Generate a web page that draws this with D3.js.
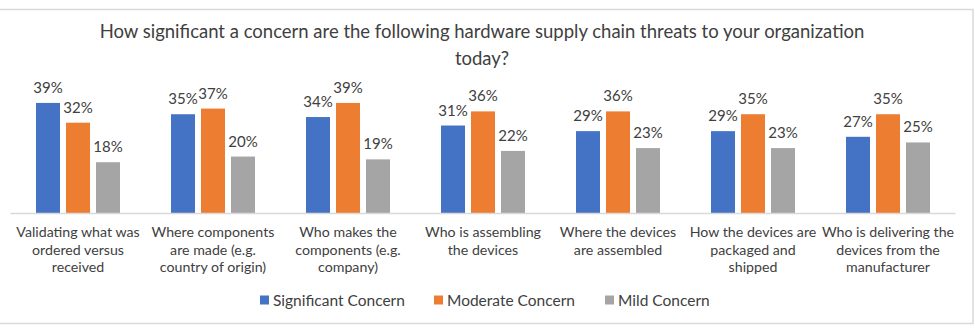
<!DOCTYPE html>
<html>
<head>
<meta charset="utf-8">
<script src="https://cdn.jsdelivr.net/npm/d3@7"></script>
<style>
  html, body { margin: 0; padding: 0; background: #fff; }
  svg { display: block; font-family: Lato, "Open Sans", sans-serif; }
</style>
</head>
<body>
<svg id="chart" width="975" height="335"></svg>
<script>
// Data
const categories = [
    ['Validating what was', 'ordered versus', 'received'],
    ['Where components', 'are made (e.g.', 'country of origin)'],
    ['Who makes the', 'components (e.g.', 'company)'],
    ['Who is assembling', 'the devices'],
    ['Where the devices', 'are assembled'],
    ['How the devices are', 'packaged and', 'shipped'],
    ['Who is delivering the', 'devices from the', 'manufacturer']
];
const seriesNames = ['Significant Concern', 'Moderate Concern', 'Mild Concern'];
const significant = [39, 35, 34, 31, 29, 29, 27];
const moderate = [32, 37, 39, 36, 36, 35, 35];
const mild = [18, 20, 19, 22, 23, 23, 25];
const colors = ['#4472C4', '#ED7D31', '#A5A5A5'];
const titleLines = ['How significant a concern are the following hardware supply chain threats to your organization', 'today?'];

const seriesValues = [significant, moderate, mild];
const catKeys = categories.map((c, i) => i);

const svg = d3.select('#chart');
const textColor = '#404040';

// card border
svg.append('rect')
    .attr('x', -2).attr('y', 9.5)
    .attr('width', 975).attr('height', 314)
    .attr('fill', '#fff')
    .attr('stroke', '#d9d9d9')
    .attr('stroke-width', 1.5);

// title
const title = svg.append('text')
    .attr('text-anchor', 'middle')
    .attr('fill', textColor)
    .attr('font-size', 18.5);
titleLines.forEach((line, i) => {
    title.append('tspan')
        .attr('x', 482)
        .attr('y', 38 + i * 27)
        .text(line);
});

// scales
const baseline = 213;
const x0 = d3.scaleBand().domain(catKeys).range([10.5, 955.5]);
const x1 = d3.scaleBand().domain(d3.range(seriesNames.length))
    .range([25.5, 109.5]).paddingInner(0.2);
const y = d3.scaleLinear().domain([0, 45]).range([baseline, 86]);

// bars
const groups = svg.append('g').selectAll('g')
    .data(catKeys)
    .join('g')
    .attr('transform', d => `translate(${x0(d)},0)`);

groups.selectAll('rect')
    .data(ci => seriesValues.map((vals, si) => ({ si, v: vals[ci] })))
    .join('rect')
    .attr('x', d => x1(d.si))
    .attr('y', d => y(d.v))
    .attr('width', x1.bandwidth())
    .attr('height', d => baseline - y(d.v))
    .attr('fill', d => colors[d.si]);

groups.selectAll('text.val')
    .data(ci => seriesValues.map((vals, si) => ({ si, v: vals[ci] })))
    .join('text')
    .attr('class', 'val')
    .attr('x', d => x1(d.si) + x1.bandwidth() / 2)
    .attr('y', d => y(d.v) - 10)
    .attr('text-anchor', 'middle')
    .attr('font-size', 15)
    .attr('fill', textColor)
    .text(d => d.v + '%');

// x axis line
svg.append('line')
    .attr('x1', x0.range()[0]).attr('x2', x0.range()[1])
    .attr('y1', baseline + 0.5).attr('y2', baseline + 0.5)
    .attr('stroke', '#d9d9d9')
    .attr('stroke-width', 1.5);

// category labels
groups.append('text')
    .attr('text-anchor', 'middle')
    .attr('font-size', 14.2)
    .attr('fill', textColor)
    .selectAll('tspan')
    .data(ci => categories[ci])
    .join('tspan')
    .attr('x', x0.bandwidth() / 2)
    .attr('y', (d, i) => 237 + i * 17.5)
    .text(d => d);

// legend
const legendX = [260, 434, 605];
const legend = svg.append('g').selectAll('g')
    .data(seriesNames)
    .join('g')
    .attr('transform', (d, i) => `translate(${legendX[i]},300)`);
legend.append('rect')
    .attr('x', 0).attr('y', -4.5)
    .attr('width', 9).attr('height', 9)
    .attr('fill', (d, i) => colors[i]);
legend.append('text')
    .attr('x', 13).attr('y', 5.5)
    .attr('font-size', 15.5)
    .attr('fill', textColor)
    .text(d => d);
</script>
</body>
</html>
